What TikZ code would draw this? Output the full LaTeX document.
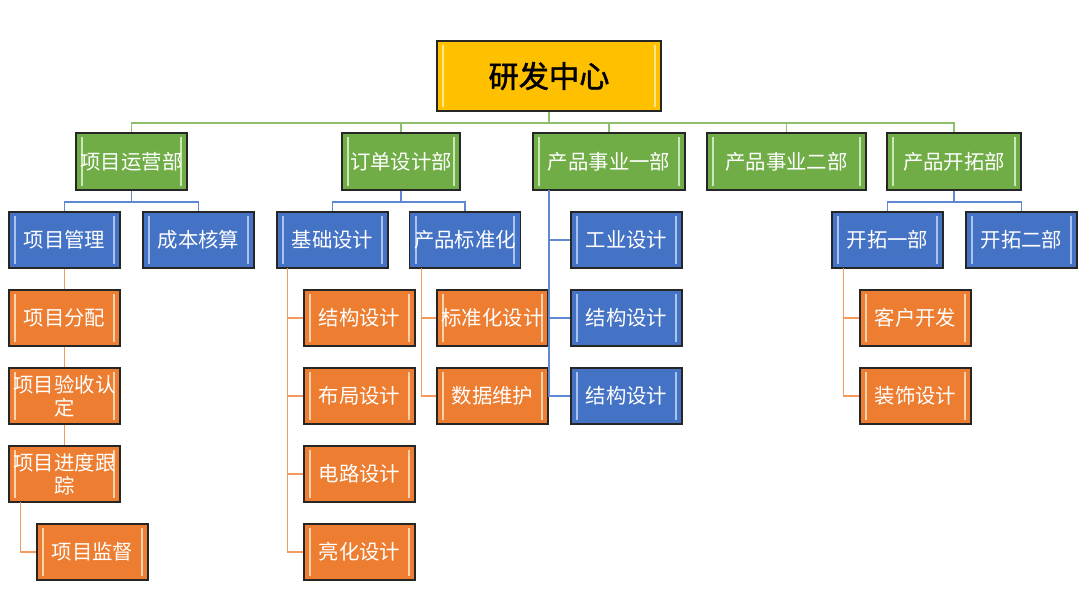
\documentclass[tikz,border=0pt]{standalone}
\usepackage{fontspec}
\setmainfont{Noto Sans CJK SC}
\newfontfamily\titlefont[FakeBold=1.6]{Noto Sans CJK SC}
\usepackage{xcolor}
\usepackage{tikz}
\usetikzlibrary{positioning, calc}
\definecolor{goldfill}{HTML}{FFC000}
\definecolor{goldbev}{HTML}{FFE88A}
\definecolor{greenfill}{HTML}{70AD47}
\definecolor{greenbev}{HTML}{CDE8B8}
\definecolor{bluefill}{HTML}{4472C4}
\definecolor{bluebev}{HTML}{A9C3EE}
\definecolor{orangefill}{HTML}{ED7D31}
\definecolor{orangebev}{HTML}{FAD2AE}
\definecolor{boxline}{HTML}{262626}
\definecolor{greenlink}{HTML}{8CC06A}
\definecolor{bluelink}{HTML}{5E88D2}
\definecolor{orangelink}{HTML}{F39A5E}

\begin{document}
\begin{tikzpicture}[
  x=0.025cm, y=-0.025cm,
  bevel/.style={path picture={
    \draw[#1, line width=1.6pt]
      ([xshift=4.5pt,yshift=-3pt]path picture bounding box.north west) --
      ([xshift=4.5pt,yshift=3pt]path picture bounding box.south west);
    \draw[#1, line width=1.6pt]
      ([xshift=-4.5pt,yshift=-3pt]path picture bounding box.north east) --
      ([xshift=-4.5pt,yshift=3pt]path picture bounding box.south east);
  }},
  unit/.style={
    draw=boxline, line width=0.9pt, text=white, inner sep=0pt,
    minimum width=2.775cm, minimum height=1.4cm, align=center,
    font=\fontsize{14.5}{16.5}\selectfont
  },
  topbox/.style={unit, fill=goldfill, bevel=goldbev, text=black,
    minimum width=5.6cm, minimum height=1.75cm,
    font=\fontsize{21.5}{24}\titlefont},
  dept/.style={unit, fill=greenfill, bevel=greenbev, minimum height=1.425cm},
  group/.style={unit, fill=bluefill, bevel=bluebev},
  task/.style={unit, fill=orangefill, bevel=orangebev},
  glink/.style={draw=greenlink, line width=1.4pt},
  blink/.style={draw=bluelink, line width=1.4pt},
  olink/.style={draw=orangelink, line width=1.4pt}
]
  \useasboundingbox (0,0) rectangle (1080,599);

  % top
  \node[topbox] (yf) at (549,76) {研发中心};

  % departments
  \node[dept, minimum width=2.775cm] (xmyy) at (131.5,161.5) {项目运营部};
  \node[dept, minimum width=2.95cm]  (ddsj) at (401,161.5)   {订单设计部};
  \node[dept, minimum width=3.8cm]   (sy1)  at (609,161.5)   {产品事业一部};
  \node[dept, minimum width=3.975cm] (sy2)  at (786.5,161.5) {产品事业二部};
  \node[dept, minimum width=3.35cm]  (cpkt) at (954,161.5)   {产品开拓部};

  % groups
  \node[group] (xmgl) at (64.5,240)  {项目管理};
  \node[group] (cbhs) at (198.5,240) {成本核算};
  \node[group] (jcsj) at (332.5,240) {基础设计};
  \node[group] (bzh)  at (465,240)   {产品标准化};
  \node[group] (gysj) at (626.5,240) {工业设计};
  \node[group] (kt1)  at (887.5,240) {开拓一部};
  \node[group] (kt2)  at (1021.5,240){开拓二部};
  \node[group] (jg2)  at (626.5,318) {结构设计};
  \node[group] (jg3)  at (626.5,396) {结构设计};

  % tasks
  \node[task] (xmfp) at (64.5,318) {项目分配};
  \node[task] (xmys) at (64.5,396) {项目验收认\\定};
  \node[task] (xmjd) at (64.5,474) {项目进度跟\\踪};
  \node[task] (xmjs) at (92.5,552) {项目监督};

  \node[task] (jgsj) at (359.5,318) {结构设计};
  \node[task] (bjsj) at (359.5,396) {布局设计};
  \node[task] (dlsj) at (359.5,474) {电路设计};
  \node[task] (lhsj) at (359.5,552) {亮化设计};

  \node[task] (bzsj) at (492.5,318) {标准化设计};
  \node[task] (sjwh) at (492.5,396) {数据维护};

  \node[task] (khkf) at (915.5,318) {客户开发};
  \node[task] (zssj) at (915.5,396) {装饰设计};

  % green links
  \foreach \d in {xmyy,ddsj,sy1,sy2,cpkt}
    \draw[glink] (yf.south) -- ++(0,11) -| (\d.north);

  % blue links
  \foreach \g in {xmgl,cbhs}
    \draw[blink] (xmyy.south) -- ++(0,11) -| (\g.north);
  \foreach \g in {jcsj,bzh}
    \draw[blink] (ddsj.south) -- ++(0,11) -| (\g.north);
  \foreach \g in {kt1,kt2}
    \draw[blink] (cpkt.south) -- ++(0,11) -| (\g.north);
  \coordinate (sy1c) at (549,190);
  \foreach \g in {gysj,jg2,jg3}
    \draw[blink] (sy1c) |- (\g.west);

  % orange links
  \draw[olink] (xmgl.south) -- (xmfp.north);
  \draw[olink] (xmfp.south) -- (xmys.north);
  \draw[olink] (xmys.south) -- (xmjd.north);
  \coordinate (xmjdc) at (20.5,502);
  \draw[olink] (xmjdc) |- (xmjs.west);

  \coordinate (jcsjc) at (287.5,268);
  \foreach \t in {jgsj,bjsj,dlsj,lhsj}
    \draw[olink] (jcsjc) |- (\t.west);

  \coordinate (bzhc) at (421.5,268);
  \foreach \t in {bzsj,sjwh}
    \draw[olink] (bzhc) |- (\t.west);

  \coordinate (kt1c) at (843.5,268);
  \foreach \t in {khkf,zssj}
    \draw[olink] (kt1c) |- (\t.west);
\end{tikzpicture}
\end{document}
